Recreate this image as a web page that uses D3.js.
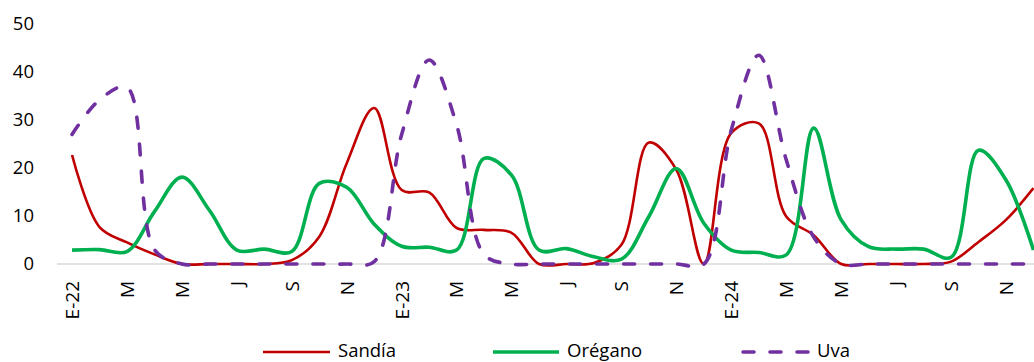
<!DOCTYPE html>
<html>
<head>
<meta charset="utf-8">
<script src="https://cdn.jsdelivr.net/npm/d3@7"></script>
<style>
  html, body { margin: 0; padding: 0; background: #fff; }
  svg { display: block; }
  text { font-family: "Open Sans", "Noto Sans", sans-serif; fill: #000; }
</style>
</head>
<body>
<svg id="chart" width="1034" height="362"></svg>
<script>
// Months Jan-2022 .. Dec-2024
const categories = [
  "E-22","F","M","A","M","J","J","A","S","O","N","D",
  "E-23","F","M","A","M","J","J","A","S","O","N","D",
  "E-24","F","M","A","M","J","J","A","S","O","N","D"
];
const sandia = [22.7, 7.7, 4.5, 2, 0, 0, 0, 0, 0.8, 5.7, 21, 32.5,
                15.4, 14.9, 7.5, 7.1, 6.5, 0, 0, 0.2, 4, 25.3, 19.6, 0,
                27.3, 29.3, 9.9, 6, 0, 0, 0, 0, 0.5, 4.6, 9.2, 15.8];
const oregano = [2.9, 3.0, 2.6, 10.9, 18.1, 11.2, 2.9, 3.1, 2.6, 16.8, 16.0, 8.3,
                 3.7, 3.5, 2.9, 22, 18.5, 2.9, 3.2, 1.5, 1.0, 9.9, 19.9, 8.5,
                 2.9, 2.4, 1.9, 28.3, 9.2, 3.6, 3.1, 3.1, 1.4, 23.7, 17.5, 2.9];
const uva = [27, 34.2, 36.8, 3, 0, 0, 0, 0, 0, 0, 0, 0.5,
             27, 42.5, 29, 2, 0, 0, 0, 0, 0, 0, 0, 0,
             27.9, 43.5, 21.7, 5.6, 0, 0, 0, 0, 0, 0, 0, 0];
const yTicks = [0, 10, 20, 30, 40, 50];
const seriesNames = ["Sandía", "Orégano", "Uva"];
const seriesColors = ["#C00000", "#00B050", "#7030A0"];

const svg = d3.select("#chart");

const x = d3.scaleBand()
  .domain(d3.range(categories.length))
  .range([58.3, 1047.2])
  .paddingInner(0).paddingOuter(0);
const cx = i => x(i) + x.bandwidth() / 2;

const y = d3.scaleLinear().domain([0, 50]).range([264, 24]);

// Y axis labels
const yAxis = d3.axisLeft(y).tickValues(yTicks).tickSize(0).tickPadding(0);
const gy = svg.append("g").attr("transform", "translate(34,0)").call(yAxis);
gy.select(".domain").remove();
gy.selectAll("text").style("font-size", "18.5px").style("font-family", "'Open Sans', sans-serif").attr("fill", "#000");

// X axis
const xAxis = d3.axisBottom(x)
  .tickValues(d3.range(0, categories.length, 2))
  .tickFormat(i => categories[i])
  .tickSize(0).tickPadding(0);
const gx = svg.append("g").attr("transform", "translate(0,264)").call(xAxis);
gx.select(".domain").attr("stroke", "#D9D9D9").attr("stroke-width", 1.5)
  .attr("d", "M57,0H1034");
gx.selectAll("text")
  .style("font-size", "19px").style("font-family", "'Open Sans', sans-serif")
  .attr("fill", "#000")
  .attr("text-anchor", "end")
  .attr("dy", "0.36em")
  .attr("transform", "translate(0,17) rotate(-90)")
  .attr("x", 0).attr("y", 0);

// Lines
const line = d3.line()
  .x((d, i) => cx(i))
  .y(d => y(d))
  .curve(d3.curveCatmullRom.alpha(0.5));

const data = [sandia, oregano, uva];
const widths = [2.6, 3.6, 3.6];
const g = svg.append("g");
data.forEach((vals, k) => {
  const p = g.append("path")
    .attr("d", line(vals))
    .attr("fill", "none")
    .attr("stroke", seriesColors[k])
    .attr("stroke-width", widths[k])
    .attr("stroke-linejoin", "round");
  if (k === 2) p.attr("stroke-dasharray", "11,16").attr("stroke-linecap", "round");
});

// Legend
const legendItems = [
  {x1: 263, x2: 330, tx: 338},
  {x1: 493, x2: 559, tx: 567},
  {x1: 743, x2: 808, tx: 817}
];
const lg = svg.append("g");
legendItems.forEach((it, k) => {
  const l = lg.append("line")
    .attr("x1", it.x1).attr("x2", it.x2)
    .attr("y1", 352).attr("y2", 352)
    .attr("stroke", seriesColors[k])
    .attr("stroke-width", widths[k]);
  if (k === 2) l.attr("stroke-dasharray", "11,16").attr("stroke-linecap", "round");
  lg.append("text")
    .attr("x", it.tx).attr("y", 350).attr("dy", "0.36em")
    .style("font-size", "18.5px")
    .text(seriesNames[k]);
});
</script>
</body>
</html>
